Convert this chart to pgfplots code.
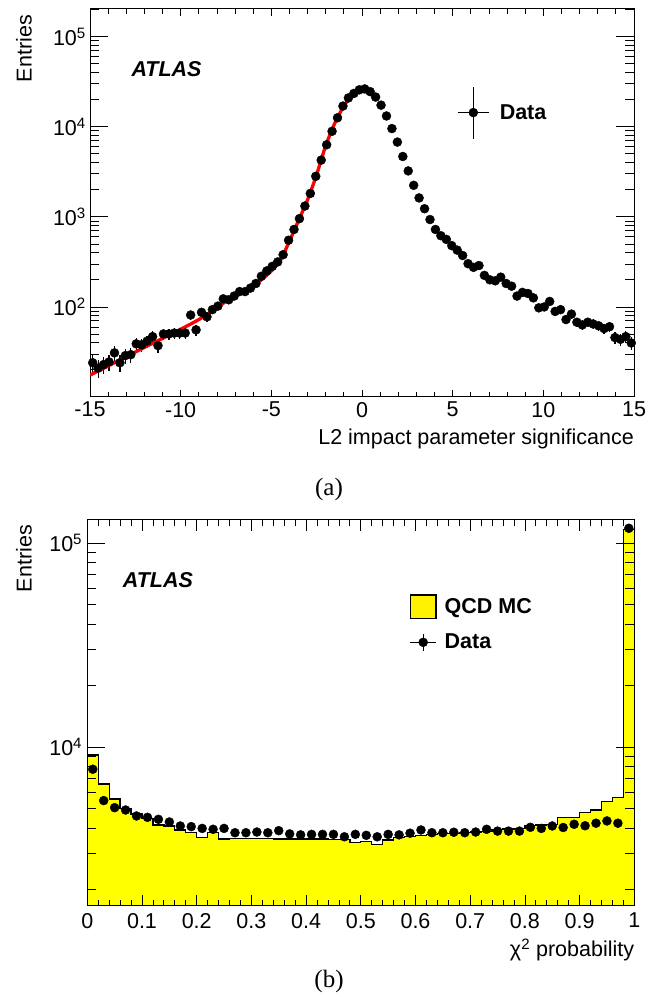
\documentclass[border=0pt]{standalone}
\usepackage{pgfplots}
\pgfplotsset{compat=1.18}
\usepackage{pgfplotstable}
\usepackage{fontspec}
\setmainfont{Liberation Sans}
\newfontfamily\seriffont{Liberation Serif}
\newcommand\fs{\fontsize{21.5bp}{25bp}\selectfont}

\pgfplotstableread{
x y
-14.85 24.0
-14.55 20.9
-14.25 22.9
-13.95 24.5
-13.65 30.9
-13.35 24.0
-13.05 28.8
-12.75 29.5
-12.45 38.9
-12.15 38.0
-11.85 41.7
-11.55 46.8
-11.25 37.2
-10.95 50.1
-10.65 50.1
-10.35 51.3
-10.05 51.3
-9.75 51.3
-9.45 81.3
-9.15 55.6
-8.85 87.1
-8.55 77.6
-8.25 93.3
-7.95 102
-7.65 123
-7.35 120
-7.05 132
-6.75 148
-6.45 148
-6.15 162
-5.85 182
-5.55 219
-5.25 251
-4.95 282
-4.65 316
-4.35 380
-4.05 550
-3.75 724
-3.45 955
-3.15 1318
-2.85 1820
-2.55 2818
-2.25 4266
-1.95 6310
-1.65 8913
-1.35 12590
-1.05 16980
-0.75 20890
-0.45 23440
-0.15 25700
0.15 26300
0.45 24550
0.75 21380
1.05 17380
1.35 13180
1.65 9550
1.95 6761
2.25 4677
2.55 3236
2.85 2239
3.15 1622
3.45 1230
3.75 933
4.05 724
4.35 617
4.65 562
4.95 479
5.25 427
5.55 372
5.85 302
6.15 275
6.45 288
6.75 224
7.05 200
7.35 195
7.65 214
7.95 182
8.25 170
8.55 132
8.85 145
9.15 141
9.45 126
9.75 97.7
10.05 100
10.35 115
10.65 89.1
10.95 93.3
11.25 72.4
11.55 83.2
11.85 67.6
12.15 63.1
12.45 67.6
12.75 64.6
13.05 61.7
13.35 57.5
13.65 60.3
13.95 45.7
14.25 43.7
14.55 46.8
14.85 39.8
}\topdata

\pgfplotstableread{
x y
-15 17.5
-14 22.1
-13 28.0
-12 35.5
-11 44.7
-10 56.5
-9 72.4
-8 97.7
-7 136
-6 172
-5.5 204
-5 251
-4.5 331
-4 537
-3.5 912
-3 1549
-2.5 2951
-2 6166
-1.5 10965
-1 16982
-0.5 22909
0 25410
}\fitdata

\pgfplotstableread{
x y
0.00 9140
0.02 6590
0.04 5560
0.06 5000
0.08 4700
0.10 4460
0.12 4150
0.14 4100
0.16 3920
0.18 3800
0.20 3594
0.22 3800
0.24 3543
0.26 3560
0.28 3555
0.30 3550
0.32 3550
0.34 3545
0.36 3540
0.38 3540
0.40 3540
0.42 3535
0.44 3530
0.46 3530
0.48 3400
0.50 3436
0.52 3333
0.54 3500
0.56 3595
0.58 3634
0.60 3675
0.62 3732
0.64 3760
0.66 3775
0.68 3800
0.70 3830
0.72 3860
0.74 3950
0.76 3960
0.78 3990
0.80 4130
0.82 4150
0.84 4180
0.86 4520
0.88 4520
0.90 4760
0.92 4910
0.94 5400
0.96 5670
0.98 116700
1.00 116700
}\histdata

\pgfplotstableread{
x y
0.00 1000
0.00 9140
0.02 6590
0.04 5560
0.06 5000
0.08 4700
0.10 4460
0.12 4150
0.14 4100
0.16 3920
0.18 3800
0.20 3594
0.22 3800
0.24 3543
0.26 3560
0.28 3555
0.30 3550
0.32 3550
0.34 3545
0.36 3540
0.38 3540
0.40 3540
0.42 3535
0.44 3530
0.46 3530
0.48 3400
0.50 3436
0.52 3333
0.54 3500
0.56 3595
0.58 3634
0.60 3675
0.62 3732
0.64 3760
0.66 3775
0.68 3800
0.70 3830
0.72 3860
0.74 3950
0.76 3960
0.78 3990
0.80 4130
0.82 4150
0.84 4180
0.86 4520
0.88 4520
0.90 4760
0.92 4910
0.94 5400
0.96 5670
0.98 116700
1.00 116700
1.00 1000
}\histfill

\pgfplotstableread{
x y
0.01 7780
0.03 5460
0.05 5040
0.07 4910
0.09 4590
0.11 4520
0.13 4420
0.15 4290
0.17 4100
0.19 4070
0.21 3990
0.23 3950
0.25 3990
0.27 3800
0.29 3800
0.31 3830
0.33 3800
0.35 3890
0.37 3750
0.39 3710
0.41 3730
0.43 3730
0.45 3730
0.47 3630
0.49 3730
0.51 3690
0.53 3630
0.55 3730
0.57 3710
0.59 3780
0.61 3920
0.63 3800
0.65 3800
0.67 3820
0.69 3800
0.71 3830
0.73 3950
0.75 3870
0.77 3870
0.79 3870
0.81 4040
0.83 3990
0.85 4100
0.87 4030
0.89 4180
0.91 4110
0.93 4230
0.95 4340
0.97 4230
0.99 118000
}\botdata

\begin{document}
\begin{tikzpicture}
\useasboundingbox (0bp,0bp) rectangle (657bp,994bp);

% ---------------- (a) ----------------
\begin{axis}[
  at={(90bp,597bp)}, anchor=south west,
  width=544bp, height=388bp, scale only axis,
  xmin=-15, xmax=15, ymode=log, ymin=10, ymax=2.03e5,
  axis line style={line width=1bp},
  xtick={-15,-10,-5,0,5,10,15},
  xticklabels={-15,-10,-5,0,5,10,15},
  minor x tick num=4,
  ytick={100,1000,10000,100000},
  yticklabels={10\textsuperscript{2},10\textsuperscript{3},10\textsuperscript{4},10\textsuperscript{5}},
  minor ytick={20,30,40,50,60,70,80,90,200,300,400,500,600,700,800,900,2000,3000,4000,5000,6000,7000,8000,9000,20000,30000,40000,50000,60000,70000,80000,90000,200000},
  tick align=inside,
  tick style={black, line width=0.8bp},
  xtick style={/pgfplots/major tick length=7bp, /pgfplots/minor tick length=5bp},
  ytick style={/pgfplots/major tick length=18bp, /pgfplots/minor tick length=9bp},
  tick label style={font=\fs},
  xticklabel style={inner sep=5bp},
  yticklabel style={inner sep=4bp},
  xlabel={L2 impact parameter significance},
  xlabel style={at={(axis description cs:1,-0.1237)}, anchor=base east, inner sep=0pt, font=\fs},
  ylabel={Entries},
  ylabel style={at={(axis description cs:-0.1072,0.9845)}, anchor=base east, inner sep=0pt, font=\fs},
  legend style={draw=none, fill=none, at={(0.674,0.733)}, anchor=west, font=\fs\bfseries, inner sep=0pt, column sep=8bp},
  legend cell align=left,
]
\addlegendimage{legend image code/.code={
  \draw[black, line width=1.3bp] (0bp,0bp) -- (31.6bp,0bp);
  \draw[black, line width=1.3bp] (15.8bp,-26bp) -- (15.8bp,26bp);
  \fill[black] (15.8bp,0bp) circle (4.5bp);}}
\addlegendentry{Data}
\addplot[forget plot, only marks, mark=*, mark size=4.5bp, black,
  error bars/.cd, y dir=both, y explicit, error mark=none,
  error bar style={line width=1.3bp}]
  table[x=x, y=y, y error expr={sqrt(\thisrow{y})}] {\topdata};
\addplot[forget plot, red, line width=3.3bp, smooth, no markers] table[x=x,y=y] {\fitdata};
\end{axis}
\node[anchor=base west, font=\fs\bfseries\itshape] at (128bp,917.3bp) {ATLAS};
\node[anchor=base, font=\seriffont\fontsize{25bp}{28bp}\selectfont] at (329bp,498bp) {(a)};

% ---------------- (b) ----------------
\begin{axis}[
  at={(87.3bp,88bp)}, anchor=south west,
  width=547bp, height=386bp, scale only axis,
  xmin=0, xmax=1, ymode=log, ymin=1662, ymax=129600,
  axis on top,
  axis line style={line width=1bp},
  xtick={0,0.1,0.2,0.3,0.4,0.5,0.6,0.7,0.8,0.9,1},
  xticklabels={0,0.1,0.2,0.3,0.4,0.5,0.6,0.7,0.8,0.9,1},
  minor x tick num=4,
  ytick={10000,100000},
  yticklabels={10\textsuperscript{4},10\textsuperscript{5}},
  minor ytick={2000,3000,4000,5000,6000,7000,8000,9000,20000,30000,40000,50000,60000,70000,80000,90000},
  tick align=inside,
  tick style={black, line width=0.8bp},
  xtick style={/pgfplots/major tick length=11bp, /pgfplots/minor tick length=6bp},
  ytick style={/pgfplots/major tick length=18bp, /pgfplots/minor tick length=9bp},
  tick label style={font=\fs},
  xticklabel style={inner sep=7bp},
  yticklabel style={inner sep=5bp},
  xlabel={χ\textsuperscript{2} probability},
  xlabel style={at={(axis description cs:1,-0.132)}, anchor=base east, inner sep=0pt, font=\fs},
  ylabel={Entries},
  ylabel style={at={(axis description cs:-0.1016,0.987)}, anchor=base east, inner sep=0pt, font=\fs},
  legend style={draw=none, fill=none, at={(0.589,0.8075)}, anchor=north west, font=\fs\bfseries, inner sep=0pt, column sep=6bp, row sep=13bp},
  legend cell align=left,
]
\addlegendimage{legend image code/.code={
  \draw[fill=yellow, draw=black, line width=1.3bp] (0bp,-11.7bp) rectangle (25.7bp,11.7bp);}}
\addlegendentry{QCD MC}
\addlegendimage{legend image code/.code={
  \draw[black, line width=1.3bp] (0bp,0bp) -- (25.7bp,0bp);
  \draw[black, line width=1.3bp] (12.85bp,-8.8bp) -- (12.85bp,8.8bp);
  \fill[black] (12.85bp,0bp) circle (4.5bp);}}
\addlegendentry{Data}
\addplot[forget plot, fill={rgb,255:red,255;green,255;blue,0}, draw=none, const plot] table[x=x,y=y] {\histfill} -- cycle;
\addplot[forget plot, black, line width=1.3bp, const plot, no markers] table[x=x,y=y] {\histdata};
\addplot[forget plot, only marks, mark=*, mark size=4.5bp, black,
  error bars/.cd, y dir=both, y explicit, error mark=none,
  error bar style={line width=1.3bp}]
  table[x=x, y=y, y error expr={sqrt(\thisrow{y})}] {\botdata};
\end{axis}
\node[anchor=base west, font=\fs\bfseries\itshape] at (119.3bp,406bp) {ATLAS};
\node[anchor=base, font=\seriffont\fontsize{25bp}{28bp}\selectfont] at (329bp,7bp) {(b)};
\end{tikzpicture}
\end{document}
